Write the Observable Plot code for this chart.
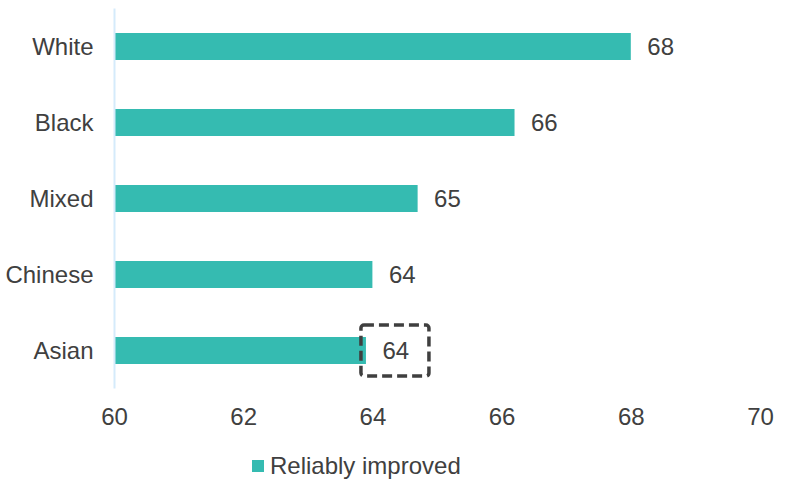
<!DOCTYPE html>
<html>
<head>
<meta charset="utf-8">
<script src="https://cdn.jsdelivr.net/npm/d3@7"></script>
<script src="https://cdn.jsdelivr.net/npm/@observablehq/plot@0.6"></script>
<style>
  html, body { margin: 0; padding: 0; background: #fff; }
  body { width: 795px; height: 484px; overflow: hidden; font-family: "Liberation Sans", Arial, sans-serif; color: #404040; }
  #chart svg { display: block; }
  .legend { position: absolute; left: 252px; top: 452px; display: flex; align-items: center; font-size: 24px; color: #404040; }
  .legend .sw { width: 12px; height: 12px; background: #35bbb1; margin-right: 6px; }
</style>
</head>
<body>
<div id="chart"></div>
<div class="legend"><span class="sw"></span><span>Reliably improved</span></div>
<script>
// Share of people reliably improved, by ethnic group
const groups = ["White", "Black", "Mixed", "Chinese", "Asian"];
const improved = [68.0, 66.2, 64.7, 64.0, 63.9];
const xTicks = [60, 62, 64, 66, 68, 70];
const highlighted = "Asian";

const rows = groups.map((g, i) => ({group: g, value: improved[i]}));
const teal = "#35bbb1";
const ink = "#404040";

const chart = Plot.plot({
  width: 795,
  height: 440,
  marginLeft: 114,
  marginRight: 35,
  marginTop: 8.5,
  marginBottom: 51.5,
  style: {fontFamily: "'Liberation Sans', Arial, sans-serif", fontSize: "24px", color: ink, overflow: "visible"},
  x: {domain: [60, 70], ticks: xTicks, tickFormat: d3.format("d"), label: null},
  y: {domain: groups, paddingInner: 0.645, paddingOuter: 0.3225, label: null},
  marks: [
    Plot.barX(rows, {x1: 60, x2: "value", y: "group", fill: teal}),
    Plot.ruleX([60], {stroke: "#d5ebfb", strokeWidth: 2}),
    Plot.text(rows, {x: "value", y: "group", text: d => d3.format(".0f")(d.value), textAnchor: "start", dx: 16, fill: ink, fontSize: 24}),
    Plot.barX(rows.filter(d => d.group === highlighted), {
      x1: "value", x2: "value", y: "group",
      insetLeft: -5, insetRight: -63, insetTop: -12, insetBottom: -12,
      fill: "none", stroke: "#3f3f3f", strokeWidth: 3.5, strokeDasharray: "10,5", rx: 3
    }),
    Plot.axisX({ticks: xTicks, tickSize: 0, tickPadding: 19, tickFormat: d3.format("d"), fill: ink, fontSize: 24, label: null}),
    Plot.axisY({tickSize: 0, tickPadding: 21, fill: ink, fontSize: 24, label: null})
  ]
});
document.getElementById("chart").append(chart);
</script>
</body>
</html>
